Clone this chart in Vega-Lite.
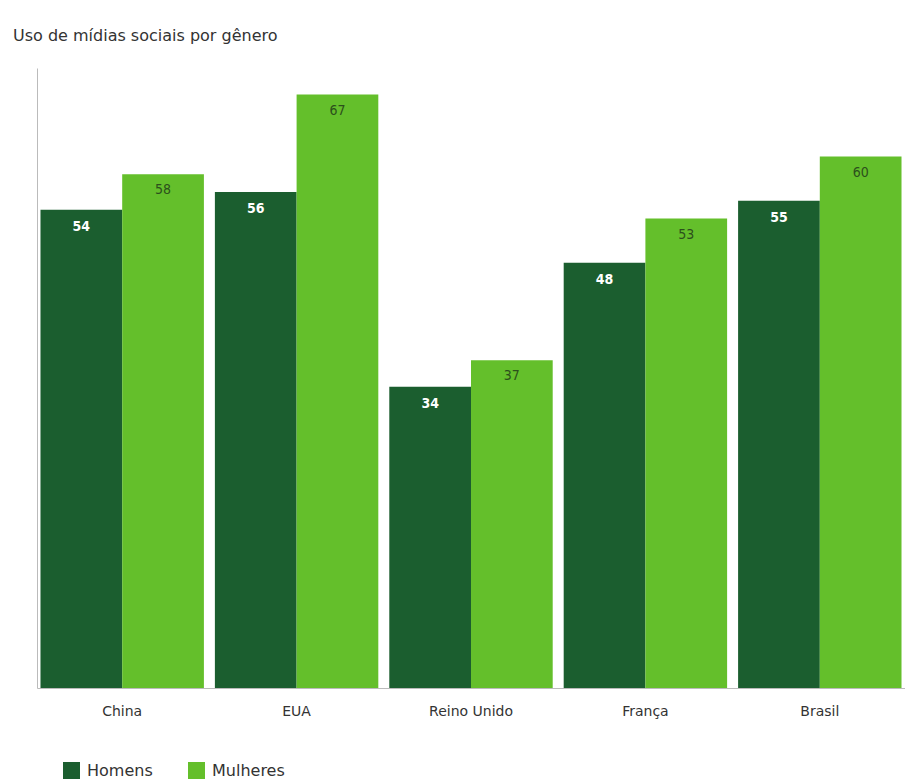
{
  "$schema": "https://vega.github.io/schema/vega-lite/v6.json",
  "autosize": "none",
  "width": 868,
  "height": 620,
  "padding": {"left": 37, "top": 68, "right": 0, "bottom": 93},
  "background": "white",
  "title": {
    "text": "Uso de mídias sociais por gênero",
    "anchor": "start",
    "frame": "group",
    "dx": -24,
    "offset": 24,
    "font": "DejaVu Sans",
    "fontSize": 16,
    "fontWeight": "normal",
    "color": "#333333"
  },
  "config": {
    "view": {"stroke": null},
    "font": "DejaVu Sans"
  },
  "data": {
    "values": [
      {"pais": "China", "genero": "Homens", "valor": 54},
      {"pais": "China", "genero": "Mulheres", "valor": 58},
      {"pais": "EUA", "genero": "Homens", "valor": 56},
      {"pais": "EUA", "genero": "Mulheres", "valor": 67},
      {"pais": "Reino Unido", "genero": "Homens", "valor": 34},
      {"pais": "Reino Unido", "genero": "Mulheres", "valor": 37},
      {"pais": "França", "genero": "Homens", "valor": 48},
      {"pais": "França", "genero": "Mulheres", "valor": 53},
      {"pais": "Brasil", "genero": "Homens", "valor": 55},
      {"pais": "Brasil", "genero": "Mulheres", "valor": 60}
    ]
  },
  "encoding": {
    "x": {
      "field": "pais",
      "type": "nominal",
      "sort": null,
      "scale": {"paddingInner": 0.063, "paddingOuter": 0.02},
      "axis": {
        "title": null,
        "labelAngle": 0,
        "ticks": false,
        "labelPadding": 16,
        "labelFontSize": 14,
        "labelColor": "#333333",
        "domainColor": "#bbbbbb",
        "labelFont": "DejaVu Sans"
      }
    },
    "xOffset": {"field": "genero", "type": "nominal", "scale": {"paddingInner": 0, "paddingOuter": 0}},
    "y": {
      "field": "valor",
      "type": "quantitative",
      "scale": {"domain": [0, 70]},
      "axis": {"title": null, "labels": false, "ticks": false, "grid": false, "domainColor": "#bbbbbb"}
    }
  },
  "layer": [
    {
      "mark": {"type": "bar"},
      "encoding": {
        "color": {
          "field": "genero",
          "type": "nominal",
          "scale": {"domain": ["Homens", "Mulheres"], "range": ["#1b5e2f", "#64bf2b"]},
          "legend": {
            "title": null,
            "orient": "none",
            "direction": "horizontal",
            "legendX": 26,
            "legendY": 694,
            "symbolType": "square",
            "symbolSize": 289,
            "symbolStrokeWidth": 0,
            "labelFontSize": 16,
            "labelColor": "#333333",
            "labelFont": "DejaVu Sans",
            "columnPadding": 35,
            "labelOffset": 7
          }
        }
      }
    },
    {
      "transform": [{"filter": "datum.genero === 'Homens'"}],
      "mark": {"type": "text", "baseline": "middle", "dy": 17, "fontSize": 14, "fontWeight": "bold", "color": "white", "font": "DejaVu Sans Condensed"},
      "encoding": {"text": {"field": "valor", "type": "quantitative"}}
    },
    {
      "transform": [{"filter": "datum.genero === 'Mulheres'"}],
      "mark": {"type": "text", "baseline": "middle", "dy": 16, "fontSize": 14, "color": "#2c4f1c", "font": "DejaVu Sans Condensed"},
      "encoding": {"text": {"field": "valor", "type": "quantitative"}}
    }
  ]
}
